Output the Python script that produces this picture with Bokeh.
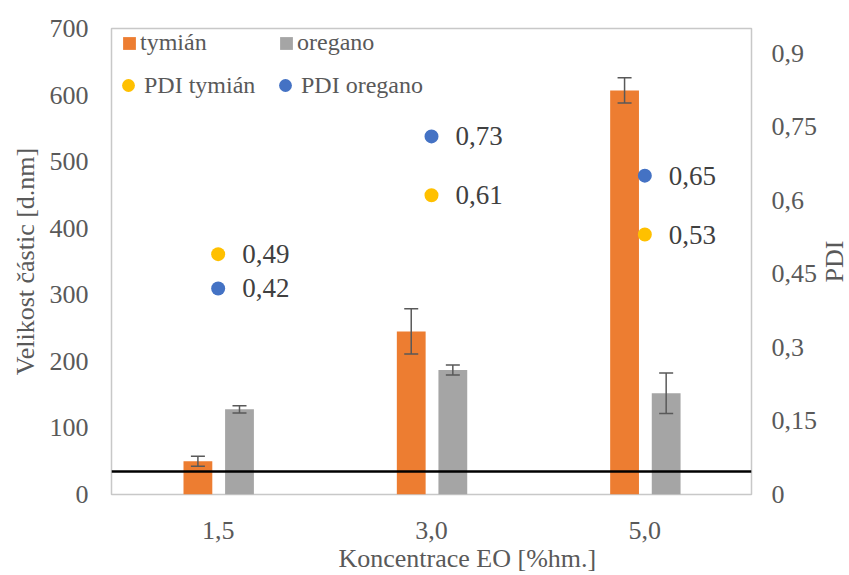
import math
from bokeh.plotting import figure
from bokeh.models import (FactorRange, Range1d, LinearAxis, FixedTicker, CustomJSTickFormatter,
                          ColumnDataSource, Whisker, Span, Legend, LegendItem, Title, TeeHead, Label)
from bokeh.transform import dodge
from bokeh.embed import file_html
from bokeh.resources import INLINE

# ---- data ----
concentrations = ["1,5", "3,0", "5,0"]
size_thyme = [50, 245, 607]
err_thyme = [7.5, 34, 19]
size_oregano = [128, 187, 152]
err_oregano = [5.5, 7.5, 30.5]
pdi_thyme = [0.49, 0.61, 0.53]
pdi_oregano = [0.42, 0.73, 0.65]
reference_line = 34.5
left_ticks = [0, 100, 200, 300, 400, 500, 600, 700]
right_ticks = [0, 0.15, 0.3, 0.45, 0.6, 0.75, 0.9]

ORANGE = "#ed7d31"
GRAY = "#a5a5a5"
YELLOW = "#ffc000"
BLUE = "#4472c4"
TXT = "#595959"
FONT = "Liberation Serif"

def fmt(v):
    return f"{v:.2f}".replace(".", ",")

source = ColumnDataSource(dict(
    x=concentrations,
    thyme=size_thyme,
    thyme_up=[v + e for v, e in zip(size_thyme, err_thyme)],
    thyme_lo=[v - e for v, e in zip(size_thyme, err_thyme)],
    oregano=size_oregano,
    oregano_up=[v + e for v, e in zip(size_oregano, err_oregano)],
    oregano_lo=[v - e for v, e in zip(size_oregano, err_oregano)],
    pdi_thyme=pdi_thyme,
    pdi_oregano=pdi_oregano,
    lab_thyme=[fmt(v) for v in pdi_thyme],
    lab_oregano=[fmt(v) for v in pdi_oregano],
))

p = figure(width=849, height=575,
           x_range=FactorRange(*concentrations, range_padding=0, factor_padding=0),
           y_range=Range1d(0, 700),
           output_backend="svg", toolbar_location=None,
           min_border_left=111, min_border_right=98, min_border_top=28, min_border_bottom=81)
p.extra_y_ranges = {"pdi": Range1d(0, 0.95)}
p.background_fill_color = "white"
p.border_fill_color = "white"
p.outline_line_color = "#c8c8c8"
p.outline_line_width = 1.5
p.xgrid.visible = False
p.ygrid.visible = False

off_t, off_o, bw = -0.095, 0.10, 0.135
r_thyme = p.vbar(x=dodge("x", off_t, range=p.x_range), top="thyme", bottom=0, width=bw,
                 source=source, fill_color=ORANGE, line_color=None)
r_oregano = p.vbar(x=dodge("x", off_o, range=p.x_range), top="oregano", bottom=0, width=bw,
                   source=source, fill_color=GRAY, line_color=None)

for off, up, lo in [(off_t, "thyme_up", "thyme_lo"), (off_o, "oregano_up", "oregano_lo")]:
    w = Whisker(base=dodge("x", off, range=p.x_range), upper=up, lower=lo, source=source,
                line_color=TXT, line_width=1.5, level="overlay",
                upper_head=TeeHead(size=14, line_color=TXT, line_width=1.5),
                lower_head=TeeHead(size=14, line_color=TXT, line_width=1.5))
    p.add_layout(w)

p.add_layout(Span(location=reference_line, dimension="width", line_color="black",
                  line_width=2.5, level="overlay"))

r_pt = p.scatter(x="x", y="pdi_thyme", y_range_name="pdi", source=source, size=14,
                 fill_color=YELLOW, line_color=None)
r_po = p.scatter(x="x", y="pdi_oregano", y_range_name="pdi", source=source, size=14,
                 fill_color=BLUE, line_color=None)

for col, ycol in [("lab_thyme", "pdi_thyme"), ("lab_oregano", "pdi_oregano")]:
    p.text(x="x", y=ycol, text=col, y_range_name="pdi", source=source, x_offset=24,
           text_align="left", text_baseline="middle", text_font={"value": FONT},
           text_font_size="27px", text_color="#404040")

# axes
def style_axis(ax):
    ax.axis_line_color = None
    ax.major_tick_line_color = None
    ax.minor_tick_line_color = None
    ax.major_tick_out = 0
    ax.major_tick_in = 0
    ax.minor_tick_out = 0
    ax.minor_tick_in = 0
    ax.major_label_text_font = FONT
    ax.major_label_text_font_size = "26px"
    ax.major_label_text_color = TXT
    ax.axis_label_text_font = FONT
    ax.axis_label_text_font_size = "26px"
    ax.axis_label_text_font_style = "normal"
    ax.axis_label_text_color = TXT

yax = p.yaxis[0]
style_axis(yax)
yax.ticker = FixedTicker(ticks=left_ticks)
yax.major_label_standoff = 23
yax.axis_label = "Velikost částic [d.nm]"
yax.axis_label_standoff = 7

xax = p.xaxis[0]
style_axis(xax)
xax.major_label_standoff = 27

rax = LinearAxis(y_range_name="pdi", ticker=FixedTicker(ticks=right_ticks),
                 formatter=CustomJSTickFormatter(code="return String(tick).replace('.', ',');"))
style_axis(rax)
rax.major_label_standoff = 20
p.add_layout(rax, "right")

# right-axis title, reading bottom to top, placed in the right side panel
p.add_layout(Label(x=14, y=233, x_units="screen", y_units="screen", text="PDI",
                   angle=math.pi / 2, text_align="center", text_baseline="middle",
                   text_font=FONT, text_font_size="26px", text_color=TXT), "right")

xt = Title(text="Koncentrace EO [%hm.]", align="left", offset=227, standoff=0,
           vertical_align="bottom", text_font=FONT, text_font_size="26px",
           text_font_style="normal", text_color=TXT)
p.add_layout(xt, "below")

# legends
common = dict(padding=0, margin=0, border_line_color=None, background_fill_alpha=0,
              label_text_font=FONT, label_text_font_size="24px", label_text_color=TXT,
              orientation="horizontal")
leg_a = Legend(items=[LegendItem(label="tymián", renderers=[r_thyme]),
                      LegendItem(label="oregano", renderers=[r_oregano])],
               glyph_width=16, glyph_height=16, label_standoff=3, label_width=130, spacing=8,
               location=(10, 438), **common)
leg_b = Legend(items=[LegendItem(label="PDI tymián", renderers=[r_pt]),
                      LegendItem(label="PDI oregano", renderers=[r_po])],
               glyph_width=32, glyph_height=32, label_standoff=0, label_width=125, spacing=0,
               location=(1, 393), **common)
p.add_layout(leg_a)
p.add_layout(leg_b)

open("out.html", "w").write(file_html(p, INLINE))
